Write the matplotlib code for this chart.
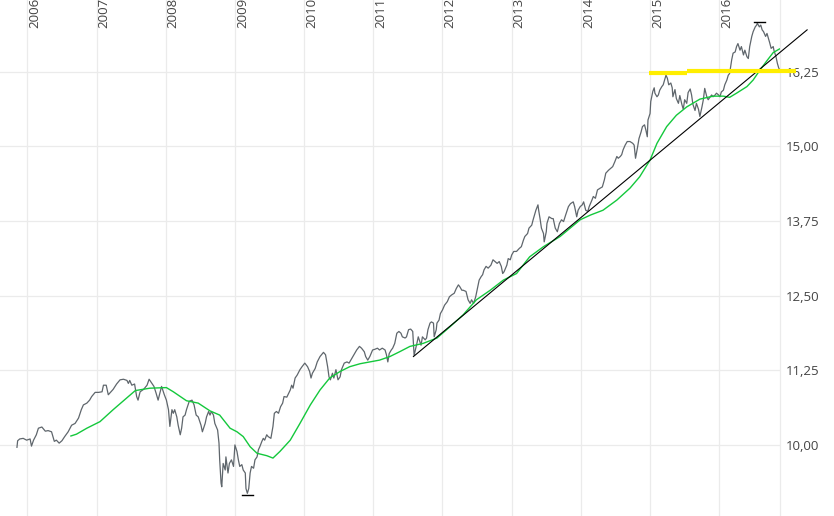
import matplotlib
matplotlib.use("Agg")
import matplotlib.pyplot as plt
import matplotlib.transforms as mtransforms

plt.rcParams['font.family'] = ['Open Sans', 'DejaVu Sans']

# price series (decimal year, value)
price_t = [
    2005.85, 2005.86, 2005.89, 2005.94, 2005.99, 2006.04, 2006.06, 2006.09, 2006.13, 2006.16,
    2006.21, 2006.26, 2006.30, 2006.35, 2006.39, 2006.42, 2006.46, 2006.50, 2006.54, 2006.59,
    2006.64, 2006.69, 2006.74, 2006.78, 2006.81, 2006.86, 2006.90, 2006.93, 2006.98, 2007.03,
    2007.08, 2007.10, 2007.14, 2007.17, 2007.21, 2007.24, 2007.29, 2007.34, 2007.39, 2007.44,
    2007.46, 2007.48, 2007.51, 2007.55, 2007.58, 2007.60, 2007.63, 2007.68, 2007.73, 2007.76,
    2007.80, 2007.83, 2007.86, 2007.89, 2007.92, 2007.94, 2007.98, 2008.01, 2008.04, 2008.06,
    2008.09, 2008.11, 2008.13, 2008.16, 2008.18, 2008.21, 2008.23, 2008.25, 2008.28, 2008.30,
    2008.34, 2008.38, 2008.41, 2008.44, 2008.47, 2008.51, 2008.53, 2008.57, 2008.59, 2008.62,
    2008.64, 2008.66, 2008.69, 2008.71, 2008.75, 2008.77, 2008.78, 2008.80, 2008.81, 2008.83,
    2008.86, 2008.87, 2008.90, 2008.92, 2008.95, 2008.98, 2009.00, 2009.03, 2009.05, 2009.07,
    2009.10, 2009.12, 2009.15, 2009.16, 2009.18, 2009.20, 2009.22, 2009.24, 2009.27, 2009.29,
    2009.32, 2009.34, 2009.36, 2009.39, 2009.41, 2009.43, 2009.46, 2009.48, 2009.52, 2009.55,
    2009.57, 2009.60, 2009.63, 2009.66, 2009.69, 2009.71, 2009.75, 2009.80, 2009.82, 2009.84,
    2009.87, 2009.90, 2009.94, 2009.97, 2010.01, 2010.05, 2010.08, 2010.10, 2010.12, 2010.16,
    2010.19, 2010.23, 2010.28, 2010.31, 2010.34, 2010.36, 2010.38, 2010.41, 2010.43, 2010.46,
    2010.49, 2010.52, 2010.54, 2010.58, 2010.62, 2010.65, 2010.69, 2010.72, 2010.76, 2010.80,
    2010.83, 2010.87, 2010.89, 2010.92, 2010.95, 2010.99, 2011.02, 2011.06, 2011.09, 2011.13,
    2011.17, 2011.19, 2011.21, 2011.23, 2011.26, 2011.28, 2011.31, 2011.34, 2011.37, 2011.40,
    2011.42, 2011.46, 2011.48, 2011.51, 2011.54, 2011.57, 2011.59, 2011.63, 2011.65, 2011.69,
    2011.71, 2011.75, 2011.77, 2011.79, 2011.82, 2011.84, 2011.87, 2011.88, 2011.91, 2011.92,
    2011.95, 2011.97, 2012.00, 2012.03, 2012.07, 2012.10, 2012.13, 2012.17, 2012.20, 2012.23,
    2012.25, 2012.28, 2012.30, 2012.34, 2012.37, 2012.40, 2012.42, 2012.45, 2012.48, 2012.51,
    2012.53, 2012.56, 2012.58, 2012.60, 2012.63, 2012.66, 2012.70, 2012.73, 2012.76, 2012.79,
    2012.82, 2012.85, 2012.87, 2012.89, 2012.93, 2012.95, 2012.98, 2013.00, 2013.03, 2013.07,
    2013.11, 2013.14, 2013.17, 2013.19, 2013.23, 2013.25, 2013.29, 2013.31, 2013.35, 2013.38,
    2013.39, 2013.41, 2013.43, 2013.46, 2013.47, 2013.50, 2013.51, 2013.54, 2013.58, 2013.60,
    2013.63, 2013.66, 2013.69, 2013.72, 2013.75, 2013.78, 2013.82, 2013.85, 2013.89, 2013.91,
    2013.94, 2013.96, 2013.99, 2014.02, 2014.04, 2014.07, 2014.10, 2014.12, 2014.16, 2014.18,
    2014.21, 2014.24, 2014.28, 2014.31, 2014.34, 2014.36, 2014.40, 2014.43, 2014.46, 2014.49,
    2014.52, 2014.54, 2014.57, 2014.59, 2014.61, 2014.64, 2014.67, 2014.71, 2014.75, 2014.77,
    2014.79, 2014.82, 2014.84, 2014.87, 2014.89, 2014.92, 2014.94, 2014.96, 2014.97, 2015.00,
    2015.01, 2015.04, 2015.06, 2015.07, 2015.10, 2015.12, 2015.14, 2015.17, 2015.19, 2015.21,
    2015.23, 2015.25, 2015.27, 2015.30, 2015.32, 2015.33, 2015.36, 2015.38, 2015.41, 2015.43,
    2015.46, 2015.48, 2015.50, 2015.53, 2015.55, 2015.58, 2015.60, 2015.62, 2015.65, 2015.67,
    2015.70, 2015.72, 2015.75, 2015.77, 2015.79, 2015.82, 2015.84, 2015.87, 2015.89, 2015.91,
    2015.94, 2015.96, 2015.99, 2016.01, 2016.03, 2016.06, 2016.08, 2016.11, 2016.13, 2016.15,
    2016.18, 2016.20, 2016.23, 2016.25, 2016.27, 2016.30, 2016.32, 2016.35, 2016.37, 2016.40,
    2016.42, 2016.44, 2016.47, 2016.49, 2016.52, 2016.54, 2016.55, 2016.58, 2016.60, 2016.62,
    2016.64, 2016.67, 2016.69, 2016.71, 2016.73, 2016.75, 2016.78, 2016.79, 2016.82, 2016.84,
    2016.86, 2016.88,
]
price_v = [
    9.96, 10.07, 10.10, 10.11, 10.08, 10.10, 9.98, 10.08, 10.17, 10.28,
    10.30, 10.23, 10.24, 10.22, 10.06, 10.08, 10.03, 10.07, 10.14, 10.22,
    10.33, 10.36, 10.45, 10.59, 10.67, 10.70, 10.75, 10.81, 10.88, 10.88,
    10.89, 11.00, 11.00, 10.84, 10.89, 10.93, 11.02, 11.09, 11.10, 11.08,
    11.03, 11.08, 11.00, 11.02, 10.81, 10.75, 10.89, 10.93, 11.00, 11.10,
    11.03, 10.98, 10.87, 10.75, 10.89, 10.98, 10.84, 10.75, 10.59, 10.31,
    10.59, 10.53, 10.59, 10.47, 10.33, 10.17, 10.28, 10.47, 10.50, 10.59,
    10.73, 10.75, 10.67, 10.50, 10.47, 10.33, 10.22, 10.36, 10.47, 10.56,
    10.50, 10.56, 10.50, 10.36, 10.25, 10.03, 9.75, 9.36, 9.30, 9.69,
    9.58, 9.80, 9.53, 9.69, 9.75, 9.64, 10.00, 9.89, 9.75, 9.64,
    9.67, 9.58, 9.53, 9.27, 9.19, 9.27, 9.53, 9.64, 9.61, 9.75,
    9.80, 9.92, 9.97, 10.06, 10.11, 10.08, 10.17, 10.14, 10.11, 10.31,
    10.53, 10.56, 10.53, 10.64, 10.70, 10.81, 10.80, 10.92, 11.00, 10.95,
    11.12, 11.17, 11.26, 11.31, 11.37, 11.31, 11.23, 11.12, 11.20, 11.28,
    11.39, 11.48, 11.55, 11.51, 11.31, 11.14, 11.09, 11.20, 11.12, 11.26,
    11.09, 11.14, 11.26, 11.37, 11.39, 11.37, 11.45, 11.51, 11.59, 11.65,
    11.62, 11.56, 11.48, 11.42, 11.48, 11.59, 11.60, 11.62, 11.59, 11.62,
    11.59, 11.51, 11.39, 11.53, 11.59, 11.62, 11.70, 11.87, 11.90, 11.87,
    11.81, 11.79, 11.81, 11.93, 11.94, 11.90, 11.50, 11.70, 11.81, 11.67,
    11.81, 11.76, 11.79, 11.93, 12.04, 12.06, 12.04, 11.81, 11.93, 12.04,
    12.09, 12.20, 12.26, 12.34, 12.40, 12.48, 12.51, 12.54, 12.62, 12.68,
    12.65, 12.59, 12.59, 12.57, 12.43, 12.37, 12.43, 12.37, 12.48, 12.65,
    12.76, 12.82, 12.85, 12.93, 12.99, 12.96, 13.01, 13.10, 13.07, 13.04,
    13.07, 12.99, 12.87, 12.90, 13.01, 13.12, 13.10, 13.18, 13.24, 13.24,
    13.29, 13.32, 13.43, 13.49, 13.54, 13.63, 13.68, 13.77, 13.93, 14.02,
    13.93, 13.79, 13.63, 13.54, 13.40, 13.57, 13.71, 13.82, 13.79, 13.79,
    13.63, 13.57, 13.71, 13.77, 13.74, 13.85, 13.99, 14.04, 14.07, 13.99,
    13.82, 13.93, 13.99, 14.02, 14.07, 13.93, 13.91, 13.99, 14.10, 14.16,
    14.13, 14.27, 14.30, 14.32, 14.44, 14.55, 14.60, 14.63, 14.66, 14.74,
    14.83, 14.80, 14.83, 14.86, 14.94, 15.02, 15.08, 15.08, 15.05, 15.02,
    14.80, 14.99, 15.13, 15.24, 15.33, 15.36, 15.27, 15.16, 15.44, 15.55,
    15.75, 15.92, 15.98, 15.89, 15.83, 15.86, 15.94, 16.00, 16.03, 16.11,
    16.19, 16.14, 16.03, 16.06, 15.98, 15.83, 15.95, 15.80, 15.72, 15.85,
    15.70, 15.62, 15.78, 15.72, 15.90, 15.96, 15.86, 15.70, 15.60, 15.72,
    15.62, 15.50, 15.66, 15.78, 15.97, 15.83, 15.78, 15.83, 15.86, 15.83,
    15.86, 15.89, 15.86, 15.83, 15.91, 15.94, 16.03, 16.11, 16.19, 16.22,
    16.45, 16.56, 16.58, 16.67, 16.72, 16.61, 16.67, 16.53, 16.61, 16.50,
    16.47, 16.67, 16.84, 16.92, 17.00, 17.03, 17.06, 17.00, 17.03, 16.95,
    16.92, 16.84, 16.89, 16.81, 16.73, 16.64, 16.67, 16.61, 16.50, 16.39,
    16.31, 16.28,
]

# moving average line
ma_t = [
    2006.63, 2006.71, 2006.86, 2007.05, 2007.24, 2007.39, 2007.56, 2007.77, 2008.01, 2008.11,
    2008.30, 2008.47, 2008.64, 2008.78, 2008.93, 2009.03, 2009.12, 2009.22, 2009.32, 2009.46,
    2009.55, 2009.65, 2009.80, 2009.94, 2010.09, 2010.23, 2010.37, 2010.52, 2010.66, 2010.81,
    2010.95, 2011.09, 2011.24, 2011.38, 2011.53, 2011.72, 2011.92, 2012.11, 2012.30, 2012.49,
    2012.69, 2012.88, 2013.07, 2013.26, 2013.46, 2013.70, 2013.99, 2014.14, 2014.32, 2014.52,
    2014.71, 2014.85, 2015.00, 2015.10, 2015.24, 2015.38, 2015.53, 2015.72, 2015.91, 2016.06,
    2016.15, 2016.25, 2016.40, 2016.49, 2016.59, 2016.70, 2016.78, 2016.87,
]
ma_v = [
    10.15, 10.18, 10.28, 10.39, 10.59, 10.74, 10.91, 10.95, 10.96, 10.89,
    10.74, 10.70, 10.57, 10.50, 10.28, 10.22, 10.14, 9.97, 9.86, 9.82,
    9.78, 9.89, 10.08, 10.36, 10.67, 10.92, 11.12, 11.23, 11.31, 11.36,
    11.39, 11.42, 11.48, 11.56, 11.65, 11.70, 11.79, 11.98, 12.18, 12.43,
    12.59, 12.76, 12.87, 13.15, 13.32, 13.49, 13.77, 13.85, 13.93, 14.10,
    14.30, 14.49, 14.77, 15.05, 15.33, 15.52, 15.66, 15.79, 15.84, 15.84,
    15.82, 15.89, 16.00, 16.11, 16.28, 16.45, 16.57, 16.63,
]

trend_t = [2011.58, 2017.27]
trend_v = [11.48, 16.95]

# horizontal resistance line (two pieces)
res_t = [[2014.99, 2015.53], [2015.53, 2017.11]]
res_v = [[16.22, 16.22], [16.26, 16.26]]

low_t, low_v = 2009.18, 9.16
high_t, high_v = 2016.58, 17.08

years = list(range(2006, 2017))
yticks = [10.00, 11.25, 12.50, 13.75, 15.00, 16.25]

fig = plt.figure(figsize=(8.34, 5.16), dpi=100)
ax = fig.add_axes([0, 0, 780 / 834, 1])
ax.set_xlim(2005.605, 2016.878)
ax.set_ylim(8.81, 17.45)

grid_c = '#ebebeb'
for y in yticks:
    ax.axhline(y, color=grid_c, lw=0.9, zorder=0)
for yr in years:
    ax.axvline(yr, color=grid_c, lw=0.9, zorder=0)

ax.plot(price_t, price_v, color='#5f666c', lw=0.9, zorder=2)
ax.plot(ma_t, ma_v, color='#14c83c', lw=1.0, zorder=3)
ax.plot(trend_t, trend_v, color='black', lw=0.8, zorder=4, clip_on=False)
for t, v in zip(res_t, res_v):
    ax.plot(t, v, color='#ffee00', lw=3.0, solid_capstyle='butt', zorder=5, clip_on=False)
ax.plot([low_t - 0.075, low_t + 0.075], [low_v, low_v], color='black', lw=1.0, zorder=4)
ax.plot([high_t - 0.075, high_t + 0.075], [high_v, high_v], color='black', lw=1.0, zorder=4)

# year labels at the top
trans = mtransforms.blended_transform_factory(ax.transData, ax.transAxes)
for yr in years:
    ax.text(yr + 0.015, 1 - 28 / 516, str(yr), rotation=90, transform=trans,
            ha='left', va='bottom', fontsize=9.5, color='#444444', clip_on=False)

ax.set_xticks([])
ax.yaxis.tick_right()
ax.set_yticks(yticks)
ax.set_yticklabels([f"{v:.2f}".replace('.', ',') for v in yticks])
ax.tick_params(axis='y', length=0, pad=4, labelsize=9.5, labelcolor='#444444')
for side in ['top', 'bottom', 'left']:
    ax.spines[side].set_visible(False)
ax.spines['right'].set_color(grid_c)
ax.spines['right'].set_linewidth(0.9)

fig.savefig('out.png', dpi=100)
